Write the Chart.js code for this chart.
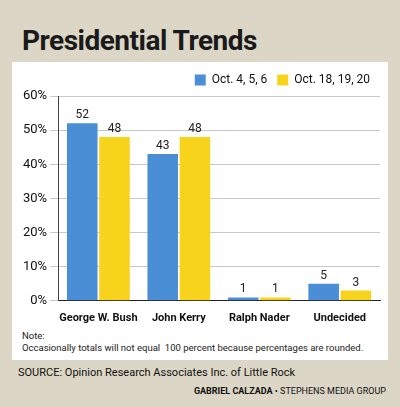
<!DOCTYPE html>
<html>
<head>
<script src="https://cdn.jsdelivr.net/npm/chart.js@4"></script>
<style>
  body { margin: 0; width: 400px; height: 407px; background: #dcd6c6; font-family: "Roboto", sans-serif; position: relative; overflow: hidden; }
  .title { position: absolute; left: 22px; top: 24px; font: bold 28px "Roboto", sans-serif; color: #1a1a1a; letter-spacing: -0.5px; }
  .panel { position: absolute; left: 12px; top: 62px; width: 376px; height: 298px; background: #fff; }
  .chart-box { position: absolute; left: 0; top: 0; width: 376px; height: 266px; }
  .note { position: absolute; left: 10px; top: 268px; font-size: 9.5px; line-height: 12px; color: #222; white-space: nowrap; }
  .source { position: absolute; left: 18px; top: 366px; font-size: 11px; color: #111; }
  .credit { position: absolute; right: 14px; top: 386px; font-size: 9px; color: #111; }
</style>
</head>
<body>
<div class="title">Presidential Trends</div>
<div class="panel">
  <div class="chart-box"><canvas id="chart"></canvas></div>
  <div class="note">Note:<br>Occasionally totals will not equal&nbsp; 100 percent because percentages are rounded.</div>
</div>
<div class="source">SOURCE: Opinion Research Associates Inc. of Little Rock</div>
<div class="credit"><b>GABRIEL CALZADA</b> • STEPHENS MEDIA GROUP</div>
<script>
const categories = ["George W. Bush", "John Kerry", "Ralph Nader", "Undecided"];
const octEarly = [52, 43, 1, 5];
const octLate = [48, 48, 1, 3];
const seriesNames = ["Oct. 4, 5, 6", "Oct. 18, 19, 20"];
const yTicks = [0, 10, 20, 30, 40, 50, 60];

const valueLabels = {
  id: "valueLabels",
  afterDatasetsDraw(chart) {
    const ctx = chart.ctx;
    ctx.save();
    ctx.font = "12px Roboto, sans-serif";
    ctx.fillStyle = "#222";
    ctx.textAlign = "center";
    ctx.textBaseline = "bottom";
    chart.data.datasets.forEach((ds, i) => {
      chart.getDatasetMeta(i).data.forEach((bar, j) => {
        ctx.fillText(ds.data[j], bar.x, bar.y - 2);
      });
    });
    ctx.restore();
  }
};

new Chart(document.getElementById("chart"), {
  type: "bar",
  data: {
    labels: categories,
    datasets: [
      { label: seriesNames[0], data: octEarly, backgroundColor: "#4a8fd6" },
      { label: seriesNames[1], data: octLate, backgroundColor: "#f7d31c" }
    ]
  },
  options: {
    responsive: true,
    maintainAspectRatio: false,
    animation: false,
    layout: { padding: { left: 8, right: 8, top: 2 } },
    datasets: { bar: { categoryPercentage: 0.8, barPercentage: 0.95 } },
    plugins: {
      legend: {
        align: "end",
        labels: { boxWidth: 11, boxHeight: 11, color: "#111", font: { size: 12, family: "Roboto, sans-serif" } }
      },
      tooltip: { enabled: false }
    },
    scales: {
      x: {
        grid: { display: false },
        border: { color: "#222" },
        ticks: { color: "#111", maxRotation: 0, autoSkip: false, font: { size: 11, weight: "bold", family: "Roboto, sans-serif" } }
      },
      y: {
        min: 0, max: 60,
        afterBuildTicks: (axis) => { axis.ticks = yTicks.map(v => ({ value: v })); },
        grid: { color: "#c8c8c8" },
        border: { color: "#444" },
        ticks: { color: "#111", callback: v => v + "%", font: { size: 13, family: "Roboto, sans-serif" } }
      }
    }
  },
  plugins: [valueLabels]
});
</script>
</body>
</html>
